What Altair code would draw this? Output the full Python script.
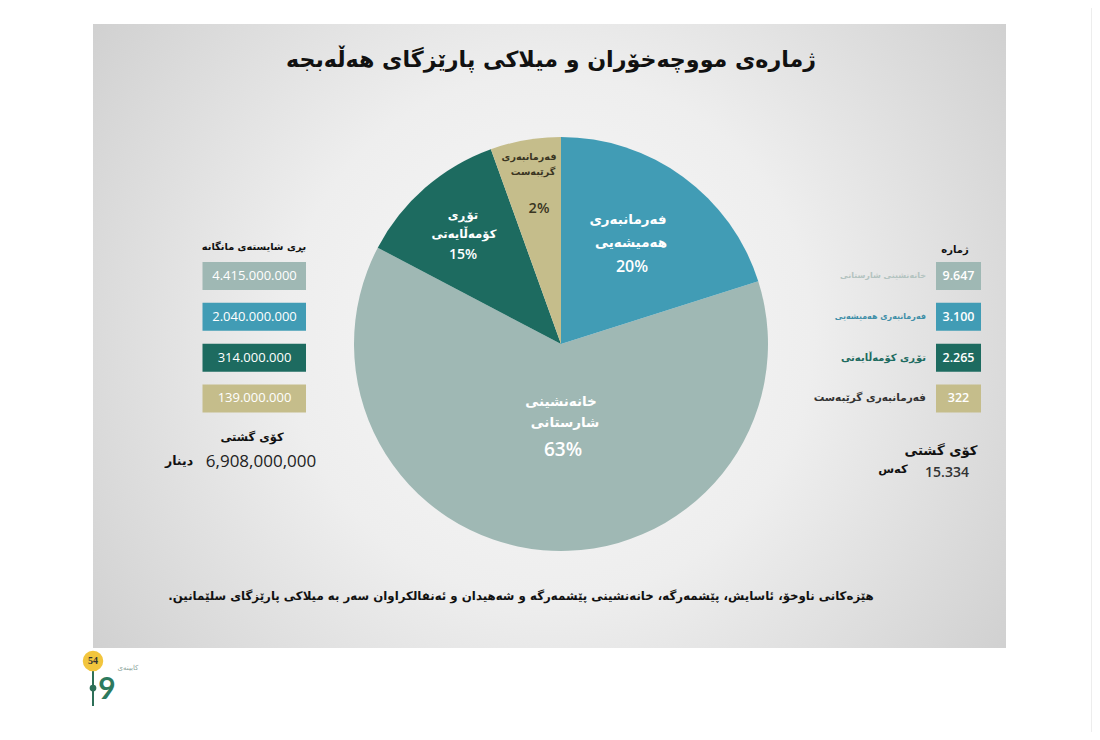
import altair as alt
import pandas as pd

# ---------------- data ----------------
categories = ["خانەنشینی شارستانی", "فەرمانبەری هەمیشەیی", "تۆڕی کۆمەڵایەتی", "فەرمانبەری گرێبەست"]
slice_line1 = ["خانەنشینی", "فەرمانبەری", "تۆڕی", "فەرمانبەری"]
slice_line2 = ["شارستانی", "هەمیشەیی", "کۆمەڵایەتی", "گرێبەست"]
pct_labels = ["63%", "20%", "15%", "2%"]
# angular share of each slice as drawn in the picture (percent of the circle)
pie_share = [62.6, 20.1, 11.8, 5.5]
# clockwise order from 12 o'clock
pie_order = [2, 1, 3, 4]
monthly_amount = ["4.415.000.000", "2.040.000.000", "314.000.000", "139.000.000"]
headcount = ["9.647", "3.100", "2.265", "322"]
total_amount = "6,908,000,000"
total_people = "15.334"

title_text = "ژمارەی مووچەخۆران و میلاکی پارێزگای هەڵەبجە"
footer_text = "هێزەکانی ناوخۆ، ئاسایش، پێشمەرگە، خانەنشینی پێشمەرگە و شەهیدان و ئەنفالکراوان سەر بە میلاکی پارێزگای سلێمانین.\u200f"
left_header = "بڕی شایستەی مانگانە"
right_header = "ژمارە"
total_word = "کۆی گشتی"
currency_word = "دینار"
people_word = "کەس"

# ---------------- styling ----------------
colors = ["#9fb8b4", "#419cb5", "#1d6b60", "#c5bd8b"]
KF = "DejaVu Sans"
NF = "Open Sans"
M = 8  # page margin: convert page px to plot px

df = pd.DataFrame({
    "cat": categories,
    "share": pie_share,
    "order": pie_order,
    "amount": monthly_amount,
    "count": headcount,
    "line1": slice_line1,
    "line2": slice_line2,
    "pct": pct_labels,
})
one = pd.DataFrame({"a": [0]})

color_scale = alt.Scale(domain=categories, range=colors)
yscale = alt.Scale(domain=categories, range=[262 - M, 412.5 - M], paddingInner=0.314, paddingOuter=0)


def txt(s, x, y, size, color="#111111", weight="bold", font=KF, align="center"):
    return alt.Chart(one).mark_text(
        text=s, fontSize=size, color=color, fontWeight=weight, font=font,
        align=align, baseline="middle"
    ).encode(x=alt.value(x - M), y=alt.value(y - M))


layers = []

# faint page edge line on the right
layers.append(
    alt.Chart(one).mark_rule(color="#ededed", strokeWidth=1).encode(
        x=alt.value(1083.5), y=alt.value(0), y2=alt.value(724)
    )
)

# background panel with radial gradient
layers.append(
    alt.Chart(one).mark_rect(
        fill={
            "gradient": "radial",
            "x1": 0.5, "y1": 0.5, "r1": 0,
            "x2": 0.5, "y2": 0.5, "r2": 0.72,
            "stops": [
                {"offset": 0, "color": "#f8f8f8"},
                {"offset": 0.4, "color": "#eeeeee"},
                {"offset": 0.7, "color": "#dadada"},
                {"offset": 1, "color": "#c6c6c6"},
            ],
        }
    ).encode(x=alt.value(93 - M), x2=alt.value(1006 - M), y=alt.value(24 - M), y2=alt.value(648 - M))
)

# pie
layers.append(
    alt.Chart(df).mark_arc(outerRadius=207, strokeWidth=0).encode(
        theta=alt.Theta("share:Q", stack=True),
        order=alt.Order("order:Q"),
        color=alt.Color("cat:N", scale=color_scale, legend=None),
        x=alt.value(561 - M),
        y=alt.value(344 - M),
    )
)

# slice labels (positions in code)
label_pos = {
    0: dict(l1=(561, 402), l2=(565, 423), p=(563, 450), s=13.5, ps=19, c="white"),
    1: dict(l1=(628, 220), l2=(631, 243), p=(632, 267), s=13.5, ps=16, c="white"),
    2: dict(l1=(463, 215), l2=(464, 234), p=(463, 255), s=11.7, ps=14, c="white"),
    3: dict(l1=(529, 157), l2=(533, 172), p=(539, 209), s=9.6, ps=14.5, c="#3a3522"),
}
for i, p in label_pos.items():
    layers.append(txt(slice_line1[i], *p["l1"], p["s"], color=p["c"]))
    layers.append(txt(slice_line2[i], *p["l2"], p["s"], color=p["c"]))
    layers.append(txt(pct_labels[i], *p["p"], p["ps"], color=p["c"], weight=600, font=NF))

# left boxes
layers.append(
    alt.Chart(df).mark_rect().encode(
        y=alt.Y("cat:N", scale=yscale, axis=None),
        x=alt.value(202.5 - M), x2=alt.value(306 - M),
        color=alt.Color("cat:N", scale=color_scale, legend=None),
    )
)
layers.append(
    alt.Chart(df).mark_text(font=NF, fontSize=13, color="white", fontWeight=500).encode(
        y=alt.Y("cat:N", scale=yscale, axis=None, bandPosition=0.5),
        x=alt.value(254.5 - M),
        text="amount:N",
    )
)
# right boxes
layers.append(
    alt.Chart(df).mark_rect().encode(
        y=alt.Y("cat:N", scale=yscale, axis=None),
        x=alt.value(936 - M), x2=alt.value(981 - M),
        color=alt.Color("cat:N", scale=color_scale, legend=None),
    )
)
layers.append(
    alt.Chart(df).mark_text(font=NF, fontSize=12.5, color="white", fontWeight=600).encode(
        y=alt.Y("cat:N", scale=yscale, axis=None, bandPosition=0.5),
        x=alt.value(958.5 - M),
        text="count:N",
    )
)
# right category names
name_style = [("#b3c3c0", 8), ("#3f8fa8", 8), ("#1d6b60", 10), ("#333333", 10.5)]
for c, (col, size) in zip(categories, name_style):
    layers.append(
        alt.Chart(df).transform_filter(alt.datum.cat == c).mark_text(
            font=KF, fontSize=size, color=col, fontWeight="bold", align="right"
        ).encode(
            y=alt.Y("cat:N", scale=yscale, axis=None, bandPosition=0.5),
            x=alt.value(926 - M),
            text="cat:N",
        )
    )

# headers and totals
layers.append(txt(left_header, 254, 247, 9.8))
layers.append(txt(right_header, 955, 250, 10))
layers.append(txt(total_word, 252, 438, 11.5))
layers.append(txt(total_amount, 261, 462, 17, color="#222222", weight=500, font=NF))
layers.append(txt(currency_word, 179, 461, 12.5))
layers.append(txt(total_word, 941, 451, 13.3))
layers.append(txt(total_people, 947, 473, 14, color="#333333", weight=600, font=NF))
layers.append(txt(people_word, 893, 470, 11.5))

# title & footer
layers.append(txt(title_text, 551, 60, 22.2))
layers.append(txt(footer_text, 521, 596, 11.8))

# small logo at the bottom left
layers.append(
    alt.Chart(one).mark_rule(color="#2d6f58", strokeWidth=2).encode(
        x=alt.value(93 - M), y=alt.value(668 - M), y2=alt.value(706 - M)
    )
)
layers.append(
    alt.Chart(one).mark_circle(size=420, color="#f2c53d", opacity=1).encode(
        x=alt.value(93 - M), y=alt.value(661 - M)
    )
)
layers.append(txt("54", 93, 661, 10, color="#333333", font="Liberation Serif"))
layers.append(
    alt.Chart(one).mark_circle(size=45, color="#2d6f58", opacity=1).encode(
        x=alt.value(93 - M), y=alt.value(688 - M)
    )
)
layers.append(txt("9", 107, 690, 30, color="#2d7a5e", font="Lato"))
layers.append(txt("کابینەی", 128, 668, 7, color="#8aa39a", weight="normal"))

chart = alt.layer(*layers).properties(
    width=1084, height=724, padding=0, autosize=alt.AutoSizeParams(type="none")
).configure(background="white").configure_view(stroke=None)

chart.save("out.html", embed_options={"renderer": "svg", "actions": False})
